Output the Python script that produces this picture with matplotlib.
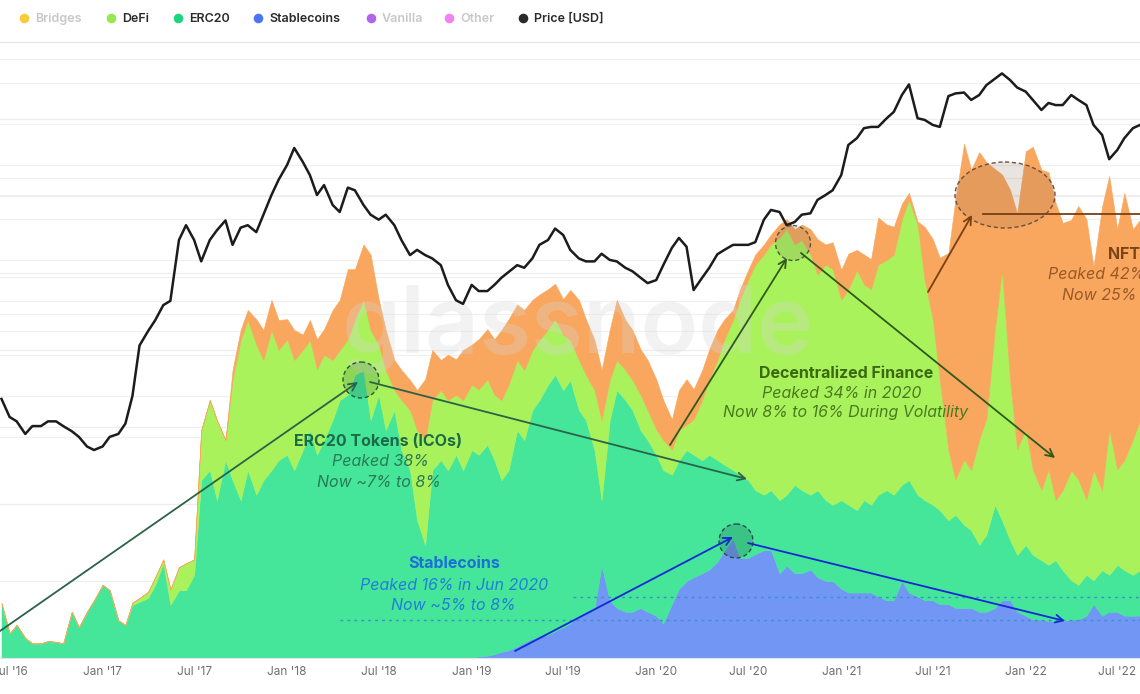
import numpy as np
import pandas as pd
import matplotlib
matplotlib.use('Agg')
import matplotlib.pyplot as plt
import matplotlib.transforms as mtransforms
from matplotlib.patches import Ellipse

plt.rcParams['font.family'] = ['Inter', 'DejaVu Sans']

# --- data (semi-monthly) ---
dates = pd.date_range('2016-06-15', '2022-08-15', freq='SMS')

price_usd = [
    19, 14, 13, 10.5, 12, 12, 13, 13, 12, 11,
    10, 8.5, 8, 8.5, 10, 10.5, 12.5, 20, 47, 60,
    72, 93, 100, 280, 360, 280, 195, 280, 330, 390,
    258, 345, 360, 320, 430, 600, 775, 1000, 1330, 1050,
    840, 600, 710, 507, 450, 680, 650, 507, 430, 395,
    430, 360, 280, 217, 237, 217, 205, 183, 131, 101,
    95, 131, 118, 118, 131, 148, 163, 183, 175, 205,
    258, 280, 340, 305, 237, 205, 195, 195, 222, 200,
    195, 175, 165, 148, 135, 142, 183, 245, 290, 250,
    120, 148, 175, 220, 237, 258, 258, 258, 270, 395,
    466, 450, 360, 380, 430, 440, 552, 600, 650, 840,
    1400, 1570, 1860, 1900, 1900, 2200, 2450, 3260, 3900, 2200,
    2140, 1965, 1900, 3200, 3350, 3400, 3000, 3260, 3850, 4300,
    4700, 4200, 3700, 3450, 3000, 2530, 2850, 2750, 2750, 3260,
    3000, 2750, 1965, 1660, 1100, 1285, 1570, 1860, 1965,
]

# gas share per category, %
stablecoins = [0.0] * 62 + [
    0.2, 0.3, 0.5, 0.8, 1.0, 1.5, 2.0, 2.5, 2.8, 3.0,
    3.5, 4.0, 4.5, 5.5, 6.0, 6.5, 12.0, 7.5, 6.5, 6.0,
    6.0, 6.5, 6.0, 5.5, 4.5, 7.0, 9.0, 10.0, 10.5, 11.0,
    11.5, 12.5, 14.0, 15.5, 13.0, 13.0, 13.5, 14.0, 14.0, 11.0,
    12.0, 11.0, 11.0, 11.5, 10.5, 10.0, 10.0, 9.0, 8.5, 8.5,
    8.5, 8.5, 8.0, 7.5, 7.5, 10.0, 8.5, 8.0, 7.5, 7.5,
    7.0, 7.0, 6.5, 6.5, 6.5, 6.0, 6.0, 6.5, 7.5, 7.5,
    6.0, 5.5, 5.0, 5.0, 4.8, 4.8, 4.8, 5.0, 5.0, 5.5,
    7.0, 5.5, 6.0, 6.0, 5.5, 5.5, 5.5,
]

erc20 = [
    7.1, 3.2, 4.3, 2.6, 1.9, 1.9, 2.2, 2.1, 1.9, 6.0,
    4.0, 6.0, 7.5, 9.5, 8.8, 4.9, 4.3, 6.9, 7.3, 7.8,
    9.5, 12.3, 6.9, 8.8, 8.8, 10.8, 23.1, 24.4, 20.5, 25.7,
    23.1, 20.5, 24.4, 21.2, 23.1, 24.4, 25.7, 26.4, 24.4, 27.0,
    29.6, 26.4, 28.3, 30.9, 33.5, 34.2, 36.8, 37.4, 30.9, 34.2,
    29.6, 32.2, 27.0, 24.4, 17.9, 14.7, 24.4, 25.7, 24.4, 26.4,
    24.4, 27.0, 26.2, 27.4, 25.2, 22.3, 23.4, 28.1, 26.3, 29.7,
    30.7, 32.5, 33.3, 30.8, 31.6, 26.7, 24.9, 20.5, 8.5, 23.4,
    28.3, 27.5, 26.2, 23.1, 22.3, 20.9, 19.9, 16.8, 16.7, 17.0,
    15.9, 14.7, 14.9, 13.2, 11.1, 8.9, 10.8, 10.1, 8.3, 7.2,
    7.8, 9.5, 9.2, 11.5, 10.8, 9.7, 11.3, 10.5, 9.9, 11.5,
    11.4, 10.7, 12.0, 11.4, 13.2, 14.3, 13.7, 12.5, 14.6, 13.2,
    13.0, 12.4, 12.2, 10.9, 12.1, 10.8, 10.1, 8.7, 10.0, 13.4,
    10.4, 7.8, 7.4, 9.2, 8.4, 7.7, 7.3, 7.9, 6.6, 5.1,
    4.5, 5.3, 3.1, 5.9, 4.8, 6.1, 5.9, 5.3, 5.9,
]

defi = [
    0, 0, 0, 0, 0, 0, 0, 0, 0, 0,
    0, 0, 0, 0, 0, 0, 0, 0.3, 0.5, 0.8,
    1.0, 0.5, 2.0, 3.0, 3.5, 2.0, 6.5, 9.1, 10.4, 2.6,
    13.0, 20.8, 19.5, 19.5, 15.6, 18.2, 14.3, 15.0, 14.3, 13.0,
    11.7, 11.1, 11.1, 7.8, 6.5, 7.2, 7.2, 9.1, 11.7, 6.5,
    7.8, 2.6, 6.5, 7.8, 11.7, 13.7, 9.1, 9.1, 9.1, 7.8,
    9.1, 8.5, 8.5, 8.5, 8.5, 10.4, 11.1, 9.1, 9.1, 7.8,
    7.8, 7.2, 7.2, 7.2, 5.2, 6.5, 5.9, 7.8, 10.4, 5.2,
    3.9, 3.9, 3.9, 4.6, 3.9, 3.3, 3.9, 3.3, 3.9, 3.3,
    4.6, 7.8, 9.8, 13.0, 16.3, 19.5, 22.8, 26.0, 29.3, 31.2,
    31.9, 34.1, 34.5, 31.2, 32.5, 31.2, 28.0, 30.6, 30.6, 26.0,
    28.0, 31.2, 28.0, 28.0, 29.9, 29.9, 31.2, 34.5, 36.4, 35.1,
    28.6, 24.1, 16.9, 9.1, 4.6, 8.5, 7.8, 13.7, 15.0, 22.8,
    32.5, 20.8, 13.7, 15.0, 11.1, 9.1, 12.4, 7.8, 10.4, 14.3,
    13.7, 9.8, 14.3, 10.4, 18.9, 12.4, 14.3, 17.6, 19.5,
]

nfts = [0.0] * 30 + [
    1.3, 1.3, 1.3, 3.3, 3.9, 3.9, 3.9, 2.6, 3.9, 2.0,
    2.6, 3.9, 3.3, 6.5, 6.5, 9.1, 6.5, 7.2, 9.8, 5.9,
    5.2, 3.9, 3.9, 3.9, 5.2, 7.8, 6.5, 3.9, 5.9, 4.6,
    6.5, 5.2, 6.5, 6.5, 7.2, 9.1, 8.5, 7.2, 7.8, 6.5,
    5.9, 5.2, 4.6, 4.6, 6.5, 7.8, 7.2, 6.5, 6.5, 6.5,
    7.8, 6.5, 6.5, 5.9, 6.5, 6.5, 5.2, 3.9, 5.2, 5.9,
    3.9, 3.9, 3.9, 3.9, 2.6, 1.3, 1.3, 1.3, 1.3, 1.3,
    1.3, 1.7, 1.3, 2.0, 2.0, 3.3, 4.6, 2.6, 3.5, 3.9,
    4.6, 2.6, 3.9, 3.9, 6.1, 4.6, 3.6, 2.0, 0.9, 0.4,
    6.9, 10.4, 15.9, 25.6, 36.4, 41.0, 39.0, 37.3, 33.4, 20.8,
    12.4, 24.7, 30.6, 36.1, 41.9, 41.6, 38.6, 38.6, 34.7, 32.5,
    35.5, 36.4, 26.4, 36.8, 32.9, 31.2, 34.7, 27.3, 26.0,
]

legend_names = ['Bridges', 'DeFi', 'ERC20', 'Stablecoins', 'Vanilla', 'Other', 'Price [USD]']
legend_colors = ['#f7c31a', '#97e84f', '#1fd47f', '#4c76ef', '#a24be6', '#f06cf0', '#2a2a2a']
legend_on = [False, True, True, True, False, False, True]

tick_dates = pd.date_range('2016-07-01', '2022-07-01', freq='6MS')
price_grid = [10, 20, 40, 60, 80, 100, 150, 200, 400, 600, 800, 1000, 2000, 4000, 6000]

# --- figure ---
W, H = 1140, 694
fig = plt.figure(figsize=(W / 100, H / 100), dpi=100)
fig.patch.set_facecolor('white')
ax = fig.add_axes([0, 36 / H, 1, 616 / H])
ax2 = ax.twinx()

ax.stackplot(dates, stablecoins, erc20, defi, nfts,
             colors=['#7196f4', '#45e69a', '#aaf25c', '#f9a65e'],
             edgecolor='face', linewidth=0.4, zorder=2)
ax.set_ylim(0, 80)
ax.set_xlim(dates[0] - pd.Timedelta(days=3), dates[-1])

ax2.set_yscale('log')
ax2.set_ylim(0.2366, 8000)
ax2.plot(dates, price_usd, color='#1c1c1c', lw=1.8, zorder=3)

# faint grid (behind the areas)
for v in range(10, 80, 10):
    ax.axhline(v, color='#eeeeee', lw=0.9, zorder=0)
gtrans = mtransforms.blended_transform_factory(ax.transAxes, ax2.transData)
for p in price_grid:
    ax.plot([0, 1], [p, p], transform=gtrans, color='#f0f0f0', lw=0.9, zorder=0)

for a in (ax, ax2):
    for s in a.spines.values():
        s.set_visible(False)
    a.set_yticks([])
ax2.set_yticks([], minor=True)
ax.spines['top'].set_visible(True)
ax.spines['top'].set_color('#e4e4e4')
ax.spines['bottom'].set_visible(True)
ax.spines['bottom'].set_color('#dfe3f3')

ax.set_xticks(tick_dates)
ax.set_xticklabels([d.strftime("%b '%y") for d in tick_dates])
ax.tick_params(axis='x', length=0, pad=6, labelsize=8.5, labelcolor='#6f6f6f')

# watermark
ax.text(578 / W, 1 - 330 / H, 'glassnode', transform=fig.transFigure,
        ha='center', va='center', fontsize=68, fontweight='semibold',
        color='#d6d6d6', alpha=0.3, zorder=5)

# --- overlay in pixel coordinates for legend and annotations ---
ov = fig.add_axes([0, 0, 1, 1], zorder=10)
ov.set_xlim(0, W)
ov.set_ylim(H, 0)
ov.axis('off')
ov.patch.set_alpha(0)

legend_x = [24, 111, 178, 258, 371, 449, 523]
for x, name, c, on in zip(legend_x, legend_names, legend_colors, legend_on):
    ov.scatter([x], [18], s=48, color=c, alpha=1.0 if on else 0.85, lw=0)
    ov.text(x + 11, 18.5, name, va='center', ha='left', fontsize=9,
            fontweight='semibold', color='#2b2b2b' if on else '#c8c8c8')


def arrow(x0, y0, x1, y1, color):
    ov.annotate('', xy=(x1, y1), xytext=(x0, y0),
                arrowprops=dict(arrowstyle='->,head_length=0.55,head_width=0.28',
                                color=color, lw=1.3, shrinkA=0, shrinkB=0))


def ring(x, y, w, h, face, alpha, edge):
    ov.add_patch(Ellipse((x, y), w, h, facecolor=face, alpha=alpha, lw=0))
    ov.add_patch(Ellipse((x, y), w, h, facecolor='none', edgecolor=edge,
                         lw=1.0, linestyle=(0, (3, 2))))


# ERC20
ring(361, 380, 36, 36, '#2d6b45', 0.22, '#2b5540')
arrow(0, 631, 358, 382, '#2c6248')
arrow(370, 382, 747, 479, '#2c6248')
ov.text(378, 441, 'ERC20 Tokens (ICOs)', ha='center', va='center', fontsize=11.5,
        fontweight='bold', color='#1d6a46')
ov.text(380, 461, 'Peaked 38%', ha='center', va='center', fontsize=11.5,
        style='italic', color='#2b7a55')
ov.text(379, 482, 'Now ~7% to 8%', ha='center', va='center', fontsize=11.5,
        style='italic', color='#2b7a55')

# Stablecoins
ov.plot([340, W], [620, 620], color='#3b8fcb', lw=1.0, linestyle=(0, (2, 3)))
ov.plot([573, W], [597, 597], color='#3b8fcb', lw=1.0, linestyle=(0, (2, 3)))
ring(736, 541, 34, 34, '#1f5a48', 0.25, '#2b4a50')
arrow(515, 651, 733, 537, '#1428d6')
arrow(748, 543, 1065, 621, '#1428d6')
ov.text(454, 564, 'Stablecoins', ha='center', va='center', fontsize=11.5,
        fontweight='bold', color='#1b6fd6')
ov.text(454, 585, 'Peaked 16% in Jun 2020', ha='center', va='center', fontsize=11.5,
        style='italic', color='#1f7fd8')
ov.text(453, 605, 'Now ~5% to 8%', ha='center', va='center', fontsize=11.5,
        style='italic', color='#1f7fd8')

# DeFi
ring(793, 243, 35, 35, '#6f7560', 0.18, '#4b5a48')
arrow(670, 445, 787, 258, '#2f5a1c')
arrow(801, 253, 1055, 458, '#2f5a1c')
ov.text(846, 373, 'Decentralized Finance', ha='center', va='center', fontsize=11.5,
        fontweight='bold', color='#3b6912')
ov.text(842, 393, 'Peaked 34% in 2020', ha='center', va='center', fontsize=11.5,
        style='italic', color='#4a7a1e')
ov.text(846, 412, 'Now 8% to 16% During Volatility', ha='center', va='center',
        fontsize=11.5, style='italic', color='#4a7a1e')

# NFTs
ring(1005, 195, 100, 66, '#8a6a50', 0.18, '#6a5040')
arrow(928, 292, 972, 215, '#7a3f12')
ov.plot([983, W], [214, 214], color='#7a3f12', lw=1.3)
ov.text(1108, 254, 'NFTs', ha='left', va='center', fontsize=11.5,
        fontweight='bold', color='#7a4418')
ov.text(1048, 274, 'Peaked 42%', ha='left', va='center', fontsize=11.5,
        style='italic', color='#9a5a28')
ov.text(1062, 295, 'Now 25%', ha='left', va='center', fontsize=11.5,
        style='italic', color='#9a5a28')

fig.savefig('out.png', dpi=100)
